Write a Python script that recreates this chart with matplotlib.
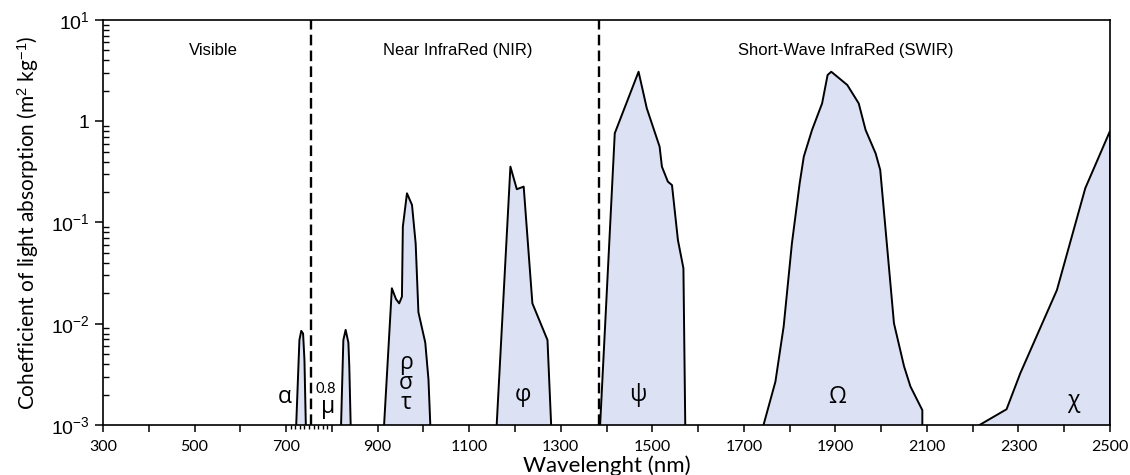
import matplotlib
matplotlib.use("Agg")
import matplotlib.pyplot as plt
from matplotlib.ticker import FixedLocator, NullFormatter, LogLocator

# absorption bands, wavelength (nm) vs coefficient (m2 kg-1)
alpha_nm = [722, 729, 733, 737, 740, 743]
alpha_k = [1e-3, 0.0069, 0.0085, 0.0080, 0.0044, 1e-3]

mu_nm = [820, 825, 830, 836, 838, 841]
mu_k = [1e-3, 0.0069, 0.0087, 0.0065, 0.0038, 1e-3]

rst_nm = [914, 931, 940, 947, 953, 955, 964, 975, 983, 989, 1004, 1011, 1015]
rst_k = [1e-3, 0.0224, 0.0175, 0.0159, 0.0185, 0.091, 0.194, 0.149, 0.062, 0.013, 0.0065, 0.0028, 1e-3]

phi_nm = [1160, 1190, 1204, 1219, 1238, 1271, 1279]
phi_k = [1e-3, 0.356, 0.213, 0.226, 0.0159, 0.0069, 1e-3]

psi_nm = [1386, 1418, 1470, 1488, 1516, 1521, 1534, 1543, 1556, 1568, 1572]
psi_k = [1e-3, 0.76, 3.08, 1.34, 0.56, 0.356, 0.253, 0.234, 0.067, 0.0353, 1e-3]

omega_nm = [1743, 1769, 1787, 1805, 1822, 1831, 1849, 1871, 1883, 1891, 1926, 1951, 1966,
            1988, 1998, 2028, 2050, 2064, 2090, 2090]
omega_k = [1e-3, 0.00268, 0.0094, 0.062, 0.244, 0.447, 0.82, 1.50, 2.86, 3.08, 2.28, 1.50, 0.82,
           0.48, 0.33, 0.0101, 0.0038, 0.0024, 0.0014, 1e-3]

chi_nm = [2215, 2274, 2304, 2384, 2446, 2500, 2500]
chi_k = [1e-3, 0.00143, 0.00324, 0.0215, 0.218, 0.80, 1e-3]

bands = [(alpha_nm, alpha_k), (mu_nm, mu_k), (rst_nm, rst_k), (phi_nm, phi_k),
         (psi_nm, psi_k), (omega_nm, omega_k), (chi_nm, chi_k)]

# region borders and names
borders = [755, 1383]
regions = ["Visible", "Near InfraRed (NIR)", "Short-Wave InfraRed (SWIR)"]
region_x = [540, 1075, 1922]

# band symbols: (text, x, y)
symbols = [("α", 696, 0.0019), ("μ", 792, 0.00150), ("ρ\nσ\nτ", 962, 0.0026),
           ("φ", 1218, 0.0020), ("ψ", 1469, 0.0020), ("Ω", 1904, 0.0019),
           ("χ", 2419, 0.00172)]

yticks = [1e-3, 1e-2, 1e-1, 1, 10]
ylabels = ["10$^{-3}$", "10$^{-2}$", "10$^{-1}$", "1", "10$^{1}$"]

plt.rcParams["font.family"] = ["Lato", "DejaVu Sans"]
plt.rcParams["mathtext.fontset"] = "custom"
plt.rcParams["mathtext.rm"] = "Liberation Sans"
plt.rcParams["mathtext.it"] = "Liberation Sans"

fill = "#dce1f4"

fig, ax = plt.subplots(figsize=(11.3, 4.75), dpi=100)
fig.subplots_adjust(left=0.0912, right=0.9823, bottom=0.1053, top=0.958)

for nm, k in bands:
    ax.fill_between(nm, k, 1e-3, color=fill, lw=0)
    ax.plot(nm, k, color="k", lw=1.4)

for b in borders:
    ax.axvline(b, color="k", lw=1.7, ls=(0, (4.5, 2.2)))

for name, x in zip(regions, region_x):
    ax.text(x, 5.0, name, ha="center", va="center", fontsize=12, family="Liberation Sans")

for s, x, y in symbols:
    ax.text(x, y, s, ha="center", va="center", fontsize=16.5, linespacing=0.78,
            family=["Open Sans", "DejaVu Sans"])
ax.text(787, 0.00225, "0.8", ha="center", va="center", fontsize=10.5)

ax.set_yscale("log")
ax.set_xlim(300, 2500)
ax.set_ylim(1e-3, 10)

ax.set_xticks(range(300, 2501, 200))
ax.set_xticks(range(400, 2500, 200), minor=True)
ax.tick_params(axis="x", which="both", direction="out", length=5, width=1.1,
               labelsize=11.5, pad=6)

ax.yaxis.set_major_locator(FixedLocator(yticks))
ax.set_yticklabels(ylabels, fontsize=14, family="Liberation Sans")
ax.yaxis.set_minor_locator(LogLocator(base=10, subs=range(2, 10)))
ax.yaxis.set_minor_formatter(NullFormatter())
ax.tick_params(axis="y", which="major", direction="out", length=6, width=1.1)
ax.tick_params(axis="y", which="minor", direction="in", length=4, width=1.0)

# tiny ticks between 700 and 800 nm
sec = ax.secondary_xaxis("bottom")
sec.set_xticks(range(710, 800, 10))
sec.tick_params(length=3, width=1.0, labelbottom=False)
sec.spines["bottom"].set_visible(False)

for sp in ax.spines.values():
    sp.set_linewidth(1.2)

ax.set_xlabel("Wavelenght (nm)", fontsize=16, labelpad=1)
ax.set_ylabel("Cohefficient of light absorption (m$^{2}$ kg$^{-1}$)", fontsize=15)
ax.yaxis.set_label_coords(-0.062, 0.5)

fig.savefig("out.png", dpi=100)
